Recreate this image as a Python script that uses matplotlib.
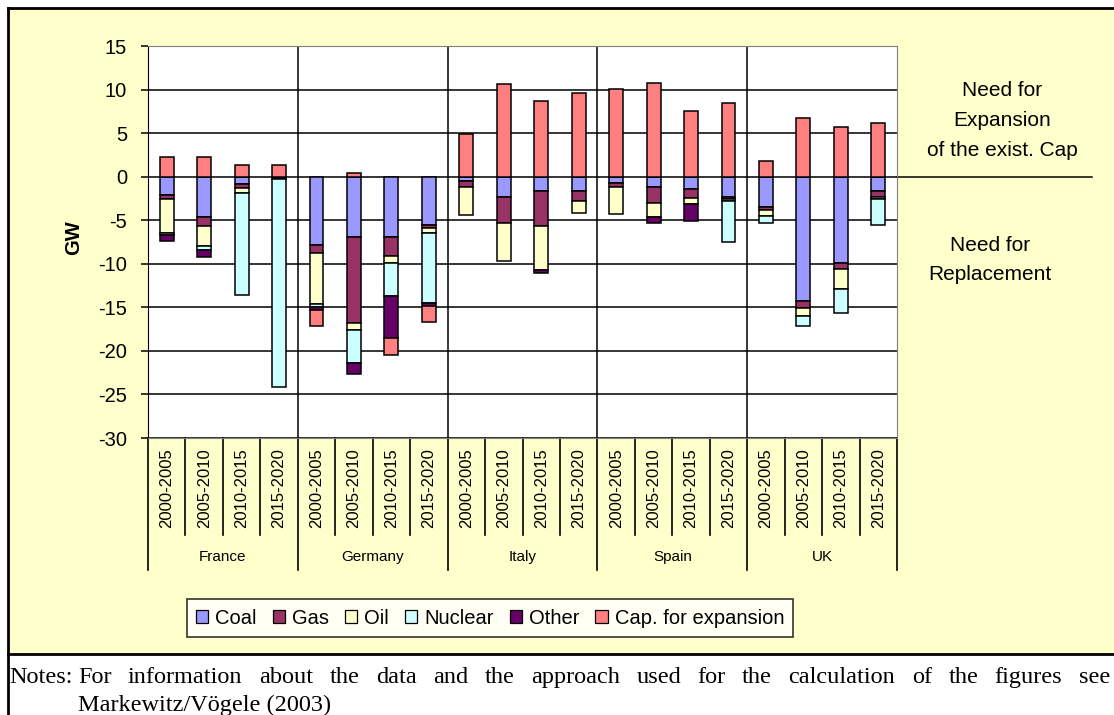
import matplotlib
matplotlib.use("Agg")
import matplotlib.pyplot as plt
import numpy as np
from matplotlib.lines import Line2D
from matplotlib.patches import Rectangle

plt.rcParams['axes.unicode_minus'] = False

# Données (GW) : négatif = besoin de remplacement, positif = expansion
countries = ['France', 'Germany', 'Italy', 'Spain', 'UK']
periods = ['2000-2005', '2005-2010', '2010-2015', '2015-2020']

coal = [-2.1, -4.65, -0.85, -0.2,
        -7.8, -6.95, -6.95, -5.5,
        -0.45, -2.35, -1.7, -1.7,
        -0.7, -1.2, -1.45, -2.3,
        -3.45, -14.3, -9.9, -1.6]
gas = [-0.45, -1.0, -0.5, -0.1,
       -1.0, -9.85, -2.2, -0.4,
       -0.7, -3.0, -3.95, -1.05,
       -0.45, -1.85, -1.05, -0.3,
       -0.35, -0.75, -0.7, -0.7]
oil = [-3.9, -2.3, -0.55, 0.0,
       -5.8, -0.75, -0.75, -0.6,
       -3.25, -4.3, -5.1, -1.45,
       -3.15, -1.6, -0.6, -0.25,
       -0.7, -1.0, -2.3, -0.3]
nuclear = [-0.3, -0.5, -11.7, -23.9,
           -0.35, -3.85, -3.8, -8.0,
           0.0, 0.0, 0.0, 0.0,
           0.0, 0.0, 0.0, -4.6,
           -0.85, -1.05, -2.75, -2.95]
other = [-0.65, -0.75, 0.0, 0.0,
         -0.35, -1.2, -4.8, -0.4,
         0.0, 0.0, -0.35, 0.0,
         0.0, -0.65, -1.95, 0.0,
         0.0, 0.0, 0.0, 0.0]
cap_expansion = [2.3, 2.3, 1.35, 1.35,
                 -1.85, 0.4, -2.0, -1.75,
                 4.95, 10.6, 8.7, 9.65,
                 10.1, 10.8, 7.55, 8.5,
                 1.8, 6.7, 5.75, 6.2]

series_names = ['Coal', 'Gas', 'Oil', 'Nuclear', 'Other', 'Cap. for expansion']
series_values = [coal, gas, oil, nuclear, other, cap_expansion]
series_colors = ['#9999FF', '#993366', '#FFFFCC', '#CCFFFF', '#660066', '#FF8080']

notes_line1 = ('For information about the data and the approach used for the '
               'calculation of the figures see')
notes_line2 = 'Markewitz/Vögele (2003)'

W, H = 1114, 715
fig = plt.figure(figsize=(W / 100, H / 100), dpi=100)
fig.patch.set_facecolor('white')

# Fond jaune + cadre
fig.add_artist(Rectangle((8 / W, (H - 654) / H), 1 - 8 / W, (654 - 8) / H,
                         transform=fig.transFigure, facecolor='#FFFFCC',
                         edgecolor='none', zorder=0))
fig.add_artist(Line2D([8 / W, 1], [1 - 8 / H, 1 - 8 / H], color='black', lw=2))
fig.add_artist(Line2D([8 / W, 8 / W], [0, 1 - 8 / H], color='black', lw=2))
fig.add_artist(Line2D([8 / W, 1], [(H - 654) / H, (H - 654) / H], color='black', lw=2))

ax = fig.add_axes([148 / W, (H - 438) / H, 749 / W, 392 / H])
ax.set_facecolor('white')

n = len(countries) * len(periods)
x = np.arange(n)
pos_bottom = np.zeros(n)
neg_bottom = np.zeros(n)
for name, vals, col in zip(series_names, series_values, series_colors):
    vals = np.array(vals)
    bottom = np.where(vals >= 0, pos_bottom, neg_bottom)
    ax.bar(x, vals, bottom=bottom, width=0.37, color=col, edgecolor='black',
           linewidth=1.1, label=name, zorder=3)
    pos_bottom += np.where(vals >= 0, vals, 0)
    neg_bottom += np.where(vals < 0, vals, 0)

ax.set_xlim(-0.5, n - 0.5)
ax.set_ylim(-30, 15)
ax.set_yticks(np.arange(-30, 16, 5))
ax.yaxis.grid(True, color='black', linewidth=1.1, zorder=1)
for k in range(1, len(countries)):
    ax.axvline(k * len(periods) - 0.5, color='black', linewidth=1.1, zorder=1)
ax.set_axisbelow(True)
ax.set_xticks([])
for s in ['top', 'right', 'bottom']:
    ax.spines[s].set_color('#808080')
ax.spines['left'].set_color('black')
ax.tick_params(axis='y', direction='out', length=5, width=1.1, pad=10,
               labelsize=14.5)
for t in ax.get_yticklabels():
    t.set_fontfamily('Liberation Sans')
fig.text(73.5 / W, 1 - 238 / H, 'GW', rotation=90, ha='center', va='center',
         fontsize=14.5, fontweight='bold', fontfamily='Liberation Sans')

# Étiquettes de catégories à deux niveaux
trans = ax.get_xaxis_transform()
for i in range(n):
    ax.text(i, -0.026, periods[i % len(periods)], rotation=90, ha='center',
            va='top', transform=trans, fontsize=12, fontfamily='Liberation Sans')
for i in range(n + 1):
    major = i % len(periods) == 0
    ax.plot([i - 0.5, i - 0.5], [0, -0.337 if major else -0.247], color='black',
            lw=1.2, transform=trans, clip_on=False)
for c, name in enumerate(countries):
    ax.text(c * len(periods) + 1.5, -0.304, name, ha='center', va='center',
            transform=trans, fontsize=11, fontfamily='Liberation Sans')

# Annotations à droite
ax.plot([1, 1.26], [30 / 45, 30 / 45], color='black', lw=1.1,
        transform=ax.transAxes, clip_on=False)
for yy, txt in zip([90, 120, 150], ['Need for', 'Expansion', 'of the exist. Cap']):
    fig.text(1002 / W, 1 - yy / H, txt, ha='center', va='center', fontsize=15,
             fontfamily='Liberation Sans')
for yy, txt in zip([245, 275], ['Need for', 'Replacement']):
    fig.text(990 / W, 1 - yy / H, txt, ha='center', va='center', fontsize=15,
             fontfamily='Liberation Sans')

# Légende
leg = fig.legend(loc='center', bbox_to_anchor=(490 / W, 1 - 618 / H), ncol=6,
                 frameon=True, fancybox=False, edgecolor='black',
                 handlelength=0.6, handleheight=0.6, handletextpad=0.35,
                 columnspacing=0.8, borderpad=0.45,
                 prop={'family': 'Liberation Sans', 'size': 14.5})
leg.get_frame().set_linewidth(1.2)
leg.get_frame().set_facecolor('white')
for p in leg.get_patches():
    p.set_linewidth(0.9)

# Notes (première ligne justifiée)
notes_font = dict(fontsize=17.5, fontfamily='Liberation Serif')
base1, base2 = 683, 711
fig.text(9 / W, 1 - base1 / H, 'Notes:', ha='left', va='baseline', **notes_font)
renderer = fig.canvas.get_renderer()
words = notes_line1.split()
word_artists = [fig.text(0, 1 - base1 / H, w, ha='left', va='baseline', **notes_font)
                for w in words]
widths = [a.get_window_extent(renderer).width for a in word_artists]
x0, x1 = 78, 1110
gap = (x1 - x0 - sum(widths)) / (len(words) - 1)
xpos = x0
for a, w in zip(word_artists, widths):
    a.set_x(xpos / W)
    xpos += w + gap
fig.text(x0 / W, 1 - base2 / H, notes_line2, ha='left', va='baseline', **notes_font)

fig.savefig('out.png', dpi=100)
